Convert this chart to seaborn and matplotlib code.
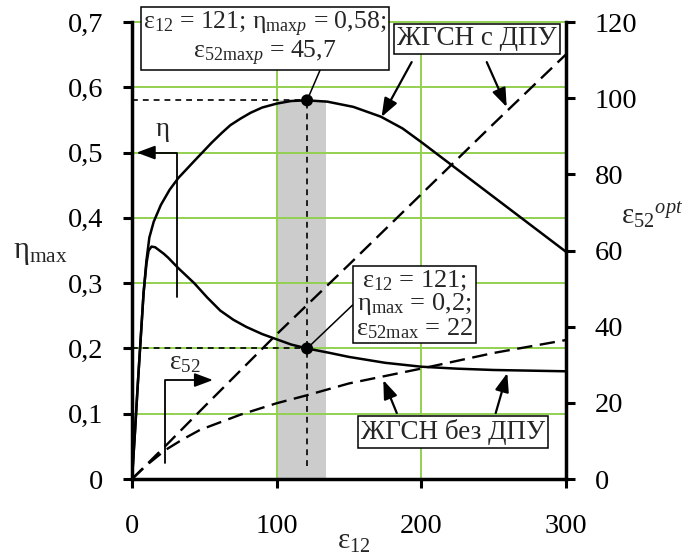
import numpy as np
import pandas as pd
import matplotlib
matplotlib.use("Agg")
import matplotlib.pyplot as plt
import seaborn as sns

# Efficiency of the gas-jet ejector pump vs. ε12 (with / without the extra booster stage)
eps12_dpu = [0, 2, 4, 6, 8, 10, 12, 15, 20, 26, 32, 43, 55, 62, 68, 75, 82, 90,
             100, 110, 121, 135, 153, 172, 187, 200, 225, 250, 275, 300]
eta_dpu = [0, 0.07, 0.145, 0.215, 0.285, 0.335, 0.37, 0.394, 0.42, 0.443, 0.461,
           0.487, 0.515, 0.530, 0.542, 0.552, 0.561, 0.569, 0.575, 0.579, 0.58,
           0.578, 0.570, 0.555, 0.537, 0.516, 0.474, 0.432, 0.390, 0.348]

eps12_bez = [0, 2, 4, 6, 8, 10, 11.5, 13.5, 16, 19, 22, 25, 32, 43, 52, 61, 70,
             79, 90, 100, 110, 121, 137, 150, 175, 200, 225, 250, 275, 300]
eta_bez = [0, 0.07, 0.145, 0.215, 0.285, 0.33, 0.35, 0.356, 0.355, 0.35, 0.345,
           0.339, 0.323, 0.300, 0.278, 0.258, 0.244, 0.233, 0.222, 0.214, 0.206,
           0.20, 0.193, 0.187, 0.178, 0.172, 0.169, 0.167, 0.166, 0.165]

# Optimal ε52 (right axis)
eps12_e52_dpu = [0, 25, 50, 75, 100, 121, 150, 200, 250, 300]
e52_dpu = [0, 9.4, 19.0, 28.5, 38.0, 45.7, 56.3, 74.8, 93.3, 111.5]

eps12_e52_bez = [0, 10, 23, 35, 47, 75, 100, 121, 150, 200, 250, 300]
e52_bez = [0, 3.6, 7.6, 10.4, 12.9, 16.9, 19.9, 22.0, 25.1, 29.0, 33.1, 36.5]

# Marked optimum
opt_eps12 = 121
opt_eta_dpu = 0.58
opt_e52_dpu = 45.7
opt_eta_bez = 0.2
opt_e52_bez = 22
band_eps12 = [101, 134]

x_ticks = [0, 100, 200, 300]
eta_ticks = [0, 0.1, 0.2, 0.3, 0.4, 0.5, 0.6, 0.7]
eta_tick_labels = ["0", "0,1", "0,2", "0,3", "0,4", "0,5", "0,6", "0,7"]
e52_ticks = [0, 20, 40, 60, 80, 100, 120]

sns.set_theme(style="white")
plt.rcParams.update({
    "font.family": ["Liberation Serif", "DejaVu Serif"],
    "mathtext.fontset": "custom",
    "mathtext.rm": "Liberation Serif",
    "mathtext.it": "Liberation Serif:italic",
    "mathtext.bf": "Liberation Serif:bold",
    "axes.edgecolor": "black",
    "axes.linewidth": 2.5,
})

GREEN = "#92d050"
TICK_FS = 20.5
NOTE_FS = 19.5

fig = plt.figure(figsize=(6.94, 5.57), dpi=100)
ax = fig.add_axes([0.1902, 0.140, 0.6254, 0.8205])
ax2 = ax.twinx()

df_dpu = pd.DataFrame({"eps12": eps12_dpu, "eta": eta_dpu})
df_bez = pd.DataFrame({"eps12": eps12_bez, "eta": eta_bez})
df_e52_dpu = pd.DataFrame({"eps12": eps12_e52_dpu, "e52": e52_dpu})
df_e52_bez = pd.DataFrame({"eps12": eps12_e52_bez, "e52": e52_bez})

# shaded range of ε12 around the optimum
ax.fill_between(band_eps12, 0, opt_eta_dpu, color="#cccccc", lw=0, zorder=0.2)

sns.lineplot(data=df_dpu, x="eps12", y="eta", ax=ax, color="black", lw=1.8,
             estimator=None, sort=False)
sns.lineplot(data=df_bez, x="eps12", y="eta", ax=ax, color="black", lw=1.8,
             estimator=None, sort=False)

sns.lineplot(data=df_e52_dpu, x="eps12", y="e52", ax=ax2, color="black", lw=1.7,
             estimator=None, sort=False)
sns.lineplot(data=df_e52_bez, x="eps12", y="e52", ax=ax2, color="black", lw=1.7,
             estimator=None, sort=False)
for ln in ax2.lines:
    ln.set_linestyle((0, (6.5, 3.2)))

# guide lines to the optimum points
ax.hlines([opt_eta_dpu, opt_eta_bez], 0, opt_eps12, colors="black", lw=1.2,
          linestyles=(0, (3.5, 3)), zorder=3)
ax.vlines(opt_eps12, 0.02, opt_eta_dpu, colors="black", lw=1.2,
          linestyles=(0, (3.5, 3)), zorder=3)
sns.scatterplot(x=[opt_eps12, opt_eps12], y=[opt_eta_dpu, opt_eta_bez], ax=ax,
                color="black", s=75, edgecolor="none", zorder=6)

# axes
ax.set_xlim(0, 300)
ax.set_ylim(0, 0.7)
ax2.set_ylim(0, 120)
ax.set_xticks(x_ticks)
ax.set_xticklabels([str(v) for v in x_ticks])
ax.set_yticks(eta_ticks)
ax.set_yticklabels(eta_tick_labels)
ax2.set_yticks(e52_ticks)
ax2.set_yticklabels([str(v) for v in e52_ticks])
for a in (ax, ax2):
    a.set_xlabel("")
    a.set_ylabel("")
    a.spines["top"].set_visible(False)
ax.spines["right"].set_visible(False)
ax2.spines["left"].set_visible(False)
ax2.spines["bottom"].set_visible(False)

ax.set_axisbelow(True)
ax.grid(True, color=GREEN, lw=1.4)
ax2.grid(False)
for gl in ax.get_ygridlines():
    gl.set_clip_on(False)

ax.tick_params(axis="x", direction="out", length=6.5, width=2.2, pad=19,
               labelsize=TICK_FS, colors="black", bottom=True)
ax.tick_params(axis="y", direction="out", length=6.5, width=2.2, pad=14,
               labelsize=TICK_FS, colors="black", left=True)
ax2.tick_params(axis="y", direction="out", length=6.5, width=2.2, pad=14,
                labelsize=TICK_FS, colors="black", right=True)

# axis titles
fig.text(0.019, 0.537, "η$_{\\mathrm{max}}$", fontsize=22, ha="left", va="baseline")
fig.text(0.895, 0.596, "ε$_{\\mathrm{52}}{}^{\\mathit{opt}}$", fontsize=21,
         ha="left", va="baseline")
fig.text(0.486, 0.014, "ε$_{\\mathrm{12}}$", fontsize=21, ha="left", va="baseline")

# annotations (drawn on the top axes so they cover the curves)
tr = ax.transData
box = dict(boxstyle="square,pad=0.1", fc="white", ec="black", lw=1.1)
thin = dict(arrowstyle="-", color="black", lw=1.1, shrinkA=0, shrinkB=0)
arrow = dict(arrowstyle="-|>,head_length=0.75,head_width=0.28", color="black",
             lw=1.6, shrinkA=0, shrinkB=0, mutation_scale=15)

ax2.text(91.9, 0.6747,
         "ε$_{\\mathrm{12}}$ = 121; η$_{\\mathrm{max}\\mathit{p}}$ = 0,58;\n"
         "ε$_{\\mathrm{52max}\\mathit{p}}$ = 45,7",
         transform=tr, ha="center", va="center", multialignment="center",
         fontsize=NOTE_FS - 1, linespacing=1.0, bbox=box, clip_on=False, zorder=10)
ax2.annotate("", xy=(opt_eps12, opt_eta_dpu), xytext=(130, 0.6264),
             xycoords=tr, textcoords=tr, arrowprops=thin, annotation_clip=False)

ax2.text(238.5, 0.674, "ЖГСН с ДПУ", transform=tr, ha="center", va="center",
         fontsize=NOTE_FS, bbox=box, zorder=10)
ax2.annotate("", xy=(172.5, 0.5545), xytext=(193.3, 0.6386), xycoords=tr,
             textcoords=tr, arrowprops=arrow)
ax2.annotate("", xy=(259, 0.5697), xytext=(245.2, 0.6386), xycoords=tr,
             textcoords=tr, arrowprops=arrow)

ax2.text(221.7, 0.0723, "ЖГСН без ДПУ", transform=tr, ha="center", va="center",
         fontsize=NOTE_FS, bbox=box, zorder=10)
ax2.annotate("", xy=(173.7, 0.1516), xytext=(183, 0.1011), xycoords=tr,
             textcoords=tr, arrowprops=arrow)
ax2.annotate("", xy=(259.4, 0.1624), xytext=(251.4, 0.1011), xycoords=tr,
             textcoords=tr, arrowprops=arrow)

ax2.text(195.4, 0.267,
         "ε$_{\\mathrm{12}}$ = 121;\nη$_{\\mathrm{max}}$ = 0,2;\n"
         "ε$_{\\mathrm{52max}}$ = 22",
         transform=tr, ha="center", va="center", multialignment="center",
         fontsize=NOTE_FS - 0.5, linespacing=0.92, bbox=box, zorder=10)
ax2.annotate("", xy=(opt_eps12, opt_eta_bez), xytext=(152.5, 0.2665),
             xycoords=tr, textcoords=tr, arrowprops=thin)

# axis pointers for the two families of curves
ax2.annotate("", xy=(3.2, 0.5), xytext=(30.9, 0.279), xycoords=tr, textcoords=tr,
             arrowprops=dict(arrow, lw=1.3,
                             connectionstyle="angle,angleA=90,angleB=0,rad=0"))
ax2.text(21.4, 0.535, "η", transform=tr, ha="center", va="center", fontsize=NOTE_FS)

ax2.annotate("", xy=(56, 0.1516), xytext=(22.8, 0.0245), xycoords=tr, textcoords=tr,
             arrowprops=dict(arrow, lw=1.3,
                             connectionstyle="angle,angleA=90,angleB=0,rad=0"))
ax2.text(36.6, 0.178, "ε$_{\\mathrm{52}}$", transform=tr, ha="center",
         va="center", fontsize=NOTE_FS)

fig.savefig("out.png", dpi=100)
